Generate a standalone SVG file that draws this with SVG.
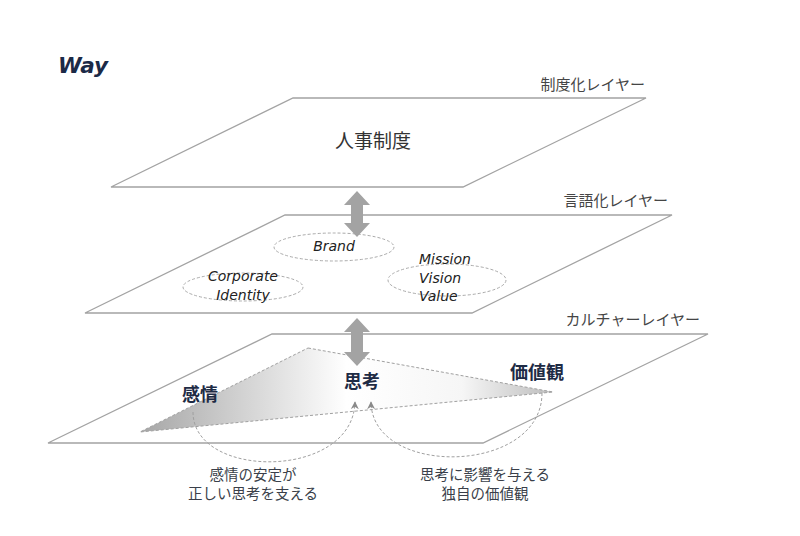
<svg xmlns="http://www.w3.org/2000/svg" width="800" height="536" viewBox="0 0 800 536">
<style>
.plane{fill:#fff;stroke:#a3a3a3;stroke-width:1.3}
.lbl{font-family:"Noto Sans CJK JP",sans-serif;font-size:15px;fill:#454545;text-anchor:end}
.jp{font-family:"Noto Sans CJK JP",sans-serif;fill:#333}
.bold{font-family:"Noto Sans CJK JP",sans-serif;font-weight:bold;font-size:18px;fill:#1e2b45;text-anchor:middle}
.en{font-family:"DejaVu Sans",Verdana,sans-serif;font-style:italic;font-size:14px;fill:#222}
.ell{fill:none;stroke:#aaa;stroke-width:1;stroke-dasharray:3,2}
.dash{fill:none;stroke:#a0a0a0;stroke-width:1;stroke-dasharray:3,2}
.tri{fill:url(#tri);stroke:#a0a0a0;stroke-width:1;stroke-dasharray:3,2}
.barrow{fill:#a3a3a3}
.note{font-family:"Noto Sans CJK JP",sans-serif;font-size:14.5px;fill:#3a3f4a;text-anchor:middle}
</style>
<defs>
<linearGradient id="tri" gradientUnits="userSpaceOnUse" x1="140" y1="0" x2="553" y2="0">
<stop offset="0" stop-color="#a6a6a6"/>
<stop offset="0.5" stop-color="#ffffff"/>
<stop offset="0.78" stop-color="#f6f6f6"/>
<stop offset="1" stop-color="#bdbdbd"/>
</linearGradient>
<marker id="ah" viewBox="0 0 10 10" refX="9" refY="5" markerWidth="8" markerHeight="8" markerUnits="userSpaceOnUse" orient="auto">
<path d="M0,0 L10,5 L0,10 L3,5 z" fill="#8a8a8a"/>
</marker>
</defs>
<rect width="800" height="536" fill="#fff"/>
<text x="58" y="73" font-family="DejaVu Sans,Verdana,sans-serif" font-weight="bold" font-style="italic" font-size="21.5" fill="#1b2a47">Way</text>

<g id="layer-seido">
<polygon class="plane" points="293,98 646,98 463,187 111,187"/>
<text class="lbl" x="645" y="90">制度化レイヤー</text>
<text class="jp" x="373" y="148" font-size="19" text-anchor="middle">人事制度</text>
</g>

<g id="layer-gengo">
<polygon class="plane" points="285,215 672,215 472,313 85,313"/>
<text class="lbl" x="668" y="206">言語化レイヤー</text>
</g>

<g id="node-brand">
<ellipse class="ell" cx="334" cy="247" rx="60" ry="14"/>
<text class="en" x="334" y="251" text-anchor="middle">Brand</text>
</g>
<g id="node-ci">
<ellipse class="ell" cx="243" cy="287" rx="60" ry="14"/>
<text class="en" x="243" y="281" text-anchor="middle">Corporate</text>
<text class="en" x="243" y="300" text-anchor="middle">Identity</text>
</g>
<g id="node-mvv">
<ellipse class="ell" cx="447" cy="280" rx="59" ry="16"/>
<text class="en" x="419" y="264">Mission</text>
<text class="en" x="419" y="283">Vision</text>
<text class="en" x="419" y="301">Value</text>
</g>

<g id="layer-culture">
<polygon class="plane" points="272,334 708,334 483,443 48,443"/>
<text class="lbl" x="700" y="325">カルチャーレイヤー</text>
<polygon class="tri" points="308,348 553,392 140,432"/>
</g>

<g id="node-kanjo"><text class="bold" x="200" y="401">感情</text></g>
<g id="node-shiko"><text class="bold" x="362" y="388">思考</text></g>
<g id="node-kachikan"><text class="bold" x="537" y="379">価値観</text></g>

<g id="connectors">
<path class="barrow" d="M357,191 L370,205 L363,205 L363,223 L370,223 L357,237 L344,223 L351,223 L351,205 L344,205 Z"/>
<path class="barrow" d="M357,318 L370,332 L363,332 L363,352 L370,352 L357,366 L344,352 L351,352 L351,332 L344,332 Z"/>
<path class="dash" d="M193,412 C193,480 353,480 355,402" marker-end="url(#ah)"/>
<path class="dash" d="M542,393 C542,475 372,478 371,402" marker-end="url(#ah)"/>
</g>

<g id="notes">
<text class="note" x="253" y="480">感情の安定が</text>
<text class="note" x="253" y="499">正しい思考を支える</text>
<text class="note" x="485" y="480">思考に影響を与える</text>
<text class="note" x="485" y="499">独自の価値観</text>
</g>
</svg>
